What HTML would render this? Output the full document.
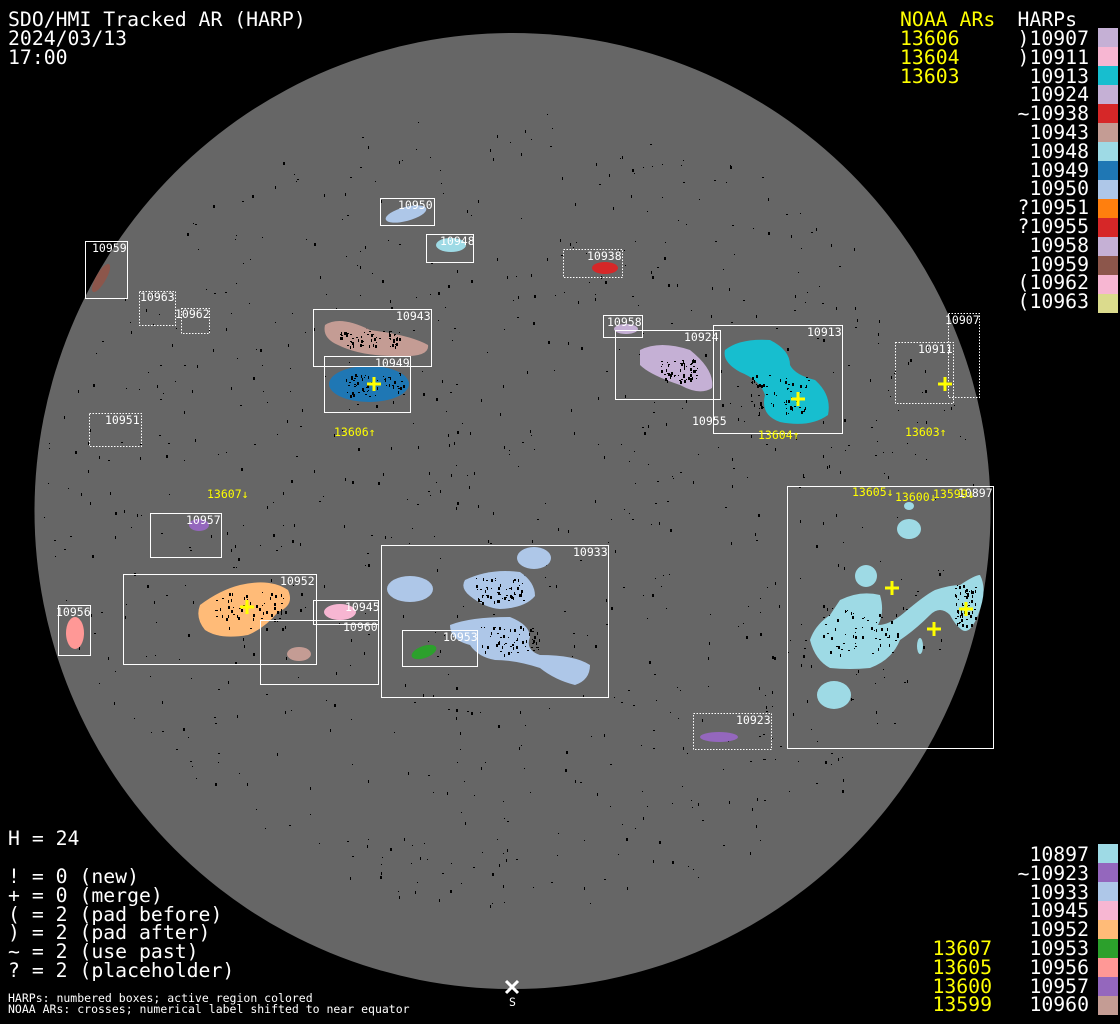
<!DOCTYPE html>
<html><head><meta charset="utf-8"><style>
html,body{margin:0;padding:0;background:#000;width:1120px;height:1024px;overflow:hidden}
svg{display:block}
.t{font-family:"DejaVu Sans Mono","Liberation Mono",monospace;font-size:19.8px;fill:#fff}
.y{fill:#ffff00}
.s{font-family:"DejaVu Sans Mono","Liberation Mono",monospace;font-size:11.5px;fill:#fff}
.sy{font-family:"DejaVu Sans Mono","Liberation Mono",monospace;font-size:11.5px;fill:#ffff00}
.b{fill:none;stroke:#fff;stroke-width:1}
.d{fill:none;stroke:#fff;stroke-width:1;stroke-dasharray:1.5 1.5}
</style></head><body>
<svg id="sv" width="1120" height="1024" viewBox="0 0 1120 1024" xmlns="http://www.w3.org/2000/svg">
<circle cx="512.5" cy="511" r="478" fill="#666"/>
<g id="dots"></g>
<ellipse cx="101" cy="278" rx="5" ry="16" fill="#8c564b" transform="rotate(30 101 278)"/>
<ellipse cx="406" cy="214" rx="21" ry="7" fill="#aec7e8" transform="rotate(-15 406 214)"/>
<ellipse cx="451" cy="245" rx="15" ry="7" fill="#9edae5"/>
<ellipse cx="605" cy="268" rx="13" ry="6" fill="#d62728"/>
<path d="M325 325 Q340 315 370 330 Q410 335 428 345 Q430 358 395 356 Q360 356 338 345 Q322 338 325 325Z" fill="#c49c94"/>
<ellipse cx="369" cy="384" rx="40" ry="18" fill="#1f77b4"/>
<ellipse cx="626" cy="329" rx="12" ry="5" fill="#c5b0d5"/>
<path d="M640 350 Q660 340 690 350 Q715 370 712 388 Q700 396 680 385 Q650 375 640 365Z" fill="#c5b0d5"/>
<path d="M725 350 Q740 338 770 340 Q790 350 790 365 Q795 375 815 380 Q832 395 828 415 Q810 428 780 422 Q760 415 765 395 Q760 380 740 372 Q722 362 725 350Z" fill="#17becf"/>
<ellipse cx="199" cy="525" rx="10" ry="6" fill="#9467bd"/>
<path d="M200 605 Q220 590 240 585 Q270 578 288 590 Q295 605 278 612 Q265 628 248 635 Q220 640 205 630 Q195 618 200 605Z" fill="#ffbb78"/>
<ellipse cx="75" cy="633" rx="9" ry="16" fill="#ff9896"/>
<ellipse cx="340" cy="612" rx="16" ry="8" fill="#f7b6d2"/>
<ellipse cx="299" cy="654" rx="12" ry="7" fill="#c49c94"/>
<ellipse cx="410" cy="589" rx="23" ry="13" fill="#aec7e8"/>
<ellipse cx="534" cy="558" rx="17" ry="11" fill="#aec7e8"/>
<path d="M465 580 Q490 568 520 572 Q535 582 535 596 Q525 608 500 609 Q485 608 470 596 Q460 588 465 580Z" fill="#aec7e8"/>
<path d="M450 625 Q470 617 510 617 Q530 625 530 637 Q525 650 540 655 Q575 655 590 665 Q590 680 575 685 Q555 680 540 668 Q515 660 495 660 Q478 657 470 645 Q450 640 450 625Z" fill="#aec7e8"/>
<ellipse cx="424" cy="652" rx="13" ry="6" fill="#2ca02c" transform="rotate(-20 424 652)"/>
<ellipse cx="719" cy="737" rx="19" ry="5" fill="#9467bd"/>
<g fill="#9edae5">
<ellipse cx="909" cy="506" rx="5" ry="4"/>
<ellipse cx="909" cy="529" rx="12" ry="10"/>
<ellipse cx="866" cy="576" rx="11" ry="11"/>
<ellipse cx="834" cy="695" rx="17" ry="14"/>
<ellipse cx="920" cy="646" rx="3" ry="8"/>
<path d="M840 600 Q860 590 880 595 Q885 612 878 625 Q890 625 905 612 Q925 595 935 590 Q950 585 960 585 Q975 575 980 575 Q988 590 978 615 Q970 635 962 630 Q955 625 950 615 Q940 605 930 615 Q915 630 900 640 Q892 660 870 668 Q850 670 830 668 Q815 660 810 640 Q815 625 830 615 Z"/>
</g>
<g id="spk"></g>
<rect class="b" x="85.5" y="241.5" width="42" height="57"/>
<rect class="d" x="139.5" y="291.5" width="36" height="34"/>
<rect class="d" x="181.5" y="308.5" width="28" height="25"/>
<rect class="d" x="89.5" y="413.5" width="52" height="33"/>
<rect class="b" x="380.5" y="198.5" width="54" height="27"/>
<rect class="b" x="426.5" y="234.5" width="47" height="28"/>
<rect class="d" x="563.5" y="249.5" width="59" height="28"/>
<rect class="b" x="313.5" y="309.5" width="118" height="57"/>
<rect class="b" x="324.5" y="356.5" width="86" height="56"/>
<rect class="b" x="603.5" y="315.5" width="39" height="22"/>
<rect class="b" x="615.5" y="330.5" width="105" height="69"/>
<rect class="b" x="713.5" y="325.5" width="129" height="108"/>
<rect class="d" x="948.5" y="313.5" width="31" height="84"/>
<rect class="d" x="895.5" y="342.5" width="58" height="61"/>
<rect class="b" x="150.5" y="513.5" width="71" height="44"/>
<rect class="b" x="123.5" y="574.5" width="193" height="90"/>
<rect class="b" x="313.5" y="600.5" width="65" height="24"/>
<rect class="b" x="260.5" y="620.5" width="118" height="64"/>
<rect class="b" x="58.5" y="605.5" width="32" height="50"/>
<rect class="b" x="381.5" y="545.5" width="227" height="152"/>
<rect class="b" x="402.5" y="630.5" width="75" height="36"/>
<rect class="d" x="693.5" y="713.5" width="78" height="36"/>
<rect class="b" x="787.5" y="486.5" width="206" height="262"/>
<g class="s">
<text x="92" y="252">10959</text>
<text x="140" y="301">10963</text>
<text x="175" y="318">10962</text>
<text x="105" y="424">10951</text>
<text x="398" y="209">10950</text>
<text x="440" y="245">10948</text>
<text x="587" y="260">10938</text>
<text x="396" y="320">10943</text>
<text x="375" y="367">10949</text>
<text x="607" y="326">10958</text>
<text x="684" y="341">10924</text>
<text x="807" y="336">10913</text>
<text x="945" y="324">10907</text>
<text x="918" y="353">10911</text>
<text x="692" y="425">10955</text>
<text x="186" y="524">10957</text>
<text x="280" y="585">10952</text>
<text x="345" y="611">10945</text>
<text x="343" y="631">10960</text>
<text x="56" y="616">10956</text>
<text x="573" y="556">10933</text>
<text x="443" y="641">10953</text>
<text x="736" y="724">10923</text>
<text x="958" y="497">10897</text>
</g>
<g class="sy">
<text x="334" y="436">13606↑</text>
<text x="758" y="439">13604↑</text>
<text x="905" y="436">13603↑</text>
<text x="207" y="498">13607↓</text>
<text x="852" y="496">13605↓</text>
<text x="895" y="501">13600↓</text>
<text x="933" y="498">13599↓</text>
</g>
<g stroke="#ffff00" stroke-width="3">
<path d="M367 384h14M374 377v14"/>
<path d="M791 399h14M798 392v14"/>
<path d="M938 384h14M945 377v14"/>
<path d="M240 607h14M247 600v14"/>
<path d="M885 588h14M892 581v14"/>
<path d="M959 609h14M966 602v14"/>
<path d="M927 629h14M934 622v14"/>
</g>
<path d="M506 981l12 12M518 981l-12 12" stroke="#fff" stroke-width="3"/>
<text class="s" x="509" y="1006">S</text>
<g class="t">
<text x="8" y="26">SDO/HMI Tracked AR (HARP)</text>
<text x="8" y="45">2024/03/13</text>
<text x="8" y="64">17:00</text>
<text x="8" y="845">H = 24</text>
<text x="8" y="883">! = 0 (new)</text>
<text x="8" y="902">+ = 0 (merge)</text>
<text x="8" y="921">( = 2 (pad before)</text>
<text x="8" y="939">) = 2 (pad after)</text>
<text x="8" y="958">~ = 2 (use past)</text>
<text x="8" y="977">? = 2 (placeholder)</text>
</g>
<text class="s" x="8" y="1002">HARPs: numbered boxes; active region colored</text>
<text class="s" x="8" y="1013">NOAA ARs: crosses; numerical label shifted to near equator</text>
<g class="t y">
<text x="900" y="26">NOAA ARs</text>
<text x="900" y="45">13606</text>
<text x="900" y="64">13604</text>
<text x="900" y="83">13603</text>
</g>
<g class="t" text-anchor="end">
<text x="1077" y="26">HARPs</text>
<text x="1089" y="45">)10907</text>
<text x="1089" y="64">)10911</text>
<text x="1089" y="83">10913</text>
<text x="1089" y="101">10924</text>
<text x="1089" y="120">~10938</text>
<text x="1089" y="139">10943</text>
<text x="1089" y="158">10948</text>
<text x="1089" y="177">10949</text>
<text x="1089" y="195">10950</text>
<text x="1089" y="214">?10951</text>
<text x="1089" y="233">?10955</text>
<text x="1089" y="252">10958</text>
<text x="1089" y="271">10959</text>
<text x="1089" y="289">(10962</text>
<text x="1089" y="308">(10963</text>
<text x="1089" y="861">10897</text>
<text x="1089" y="880">~10923</text>
<text x="1089" y="899">10933</text>
<text x="1089" y="917">10945</text>
<text x="1089" y="936">10952</text>
<text x="1089" y="955">10953</text>
<text x="1089" y="974">10956</text>
<text x="1089" y="993">10957</text>
<text x="1089" y="1011">10960</text>
</g>
<g class="t y" text-anchor="end">
<text x="992" y="955">13607</text>
<text x="992" y="974">13605</text>
<text x="992" y="993">13600</text>
<text x="992" y="1011">13599</text>
</g>
<g>
<rect x="1098" y="28" width="20" height="19" fill="#c5b0d5"/>
<rect x="1098" y="47" width="20" height="19" fill="#f7b6d2"/>
<rect x="1098" y="66" width="20" height="19" fill="#17becf"/>
<rect x="1098" y="85" width="20" height="19" fill="#c5b0d5"/>
<rect x="1098" y="104" width="20" height="19" fill="#d62728"/>
<rect x="1098" y="123" width="20" height="19" fill="#c49c94"/>
<rect x="1098" y="142" width="20" height="19" fill="#9edae5"/>
<rect x="1098" y="161" width="20" height="19" fill="#1f77b4"/>
<rect x="1098" y="180" width="20" height="19" fill="#aec7e8"/>
<rect x="1098" y="199" width="20" height="19" fill="#ff7f0e"/>
<rect x="1098" y="218" width="20" height="19" fill="#d62728"/>
<rect x="1098" y="237" width="20" height="19" fill="#c5b0d5"/>
<rect x="1098" y="256" width="20" height="19" fill="#8c564b"/>
<rect x="1098" y="275" width="20" height="19" fill="#f7b6d2"/>
<rect x="1098" y="294" width="20" height="19" fill="#dbdb8d"/>
<rect x="1098" y="844" width="20" height="19" fill="#9edae5"/>
<rect x="1098" y="863" width="20" height="19" fill="#9467bd"/>
<rect x="1098" y="882" width="20" height="19" fill="#aec7e8"/>
<rect x="1098" y="901" width="20" height="19" fill="#f7b6d2"/>
<rect x="1098" y="920" width="20" height="19" fill="#ffbb78"/>
<rect x="1098" y="939" width="20" height="19" fill="#2ca02c"/>
<rect x="1098" y="958" width="20" height="19" fill="#ff9896"/>
<rect x="1098" y="977" width="20" height="19" fill="#9467bd"/>
<rect x="1098" y="996" width="20" height="19" fill="#c49c94"/>
</g>
</svg>
<script>
(function(){var s=12345,h='',k='';
function r(){s=(s*1103515245+12345)%2147483648;return s/2147483648;}
for(var i=0;i<900;i++){var a=r()*6.2832,d=Math.sqrt(r())*470;var x=512+Math.cos(a)*d,y=511+Math.sin(a)*d*0.85;
h+='<rect x="'+x.toFixed(0)+'" y="'+y.toFixed(0)+'" width="'+(r()<0.3?2:1)+'" height="'+(r()<0.4?3:1)+'" fill="#000"/>';}
document.getElementById('dots').innerHTML=h;
var C=[[374,384,30,12],[780,395,30,20],[250,610,35,18],[860,630,40,25],[500,590,25,12],[510,640,30,14],[680,370,20,12],[965,605,10,20],[370,338,30,8]];
C.forEach(function(c){for(var j=0;j<60;j++){var x=c[0]+(r()*2-1)*c[2],y=c[1]+(r()*2-1)*c[3];k+='<rect x="'+x.toFixed(0)+'" y="'+y.toFixed(0)+'" width="'+(r()<0.5?2:1)+'" height="'+(r()<0.5?3:1)+'" fill="#000"/>';}});
document.getElementById('spk').innerHTML=k;})();
</script>
</body></html>
